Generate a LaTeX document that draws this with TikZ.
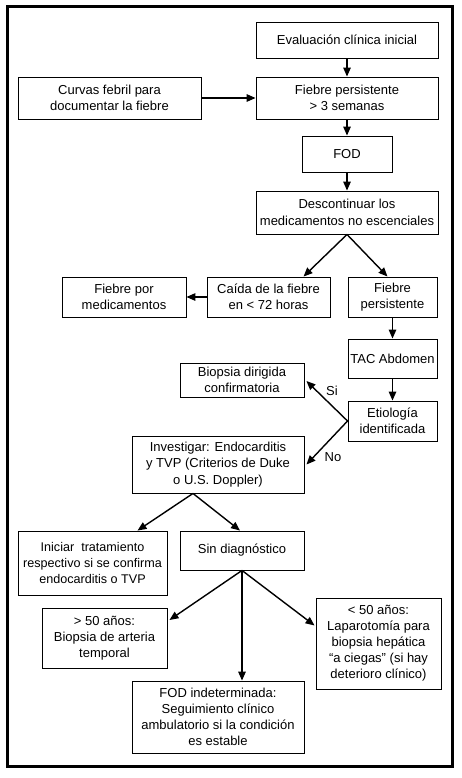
\documentclass[tikz,border=0pt]{standalone}
\usepackage{fontspec}
\setmainfont{Liberation Sans}
\usetikzlibrary{arrows.meta}
\tikzset{
  box/.style={draw, line width=0.9pt, rectangle, inner sep=0pt, align=center,
    font=\fontsize{13}{16.5}\selectfont},
  arr/.style={line width=1.4pt, -{Triangle[length=9pt,width=7.5pt]}},
  lbl/.style={font=\fontsize{13}{16}\selectfont, inner sep=0pt}
}
\begin{document}
\begin{tikzpicture}[x=1pt,y=-1pt]
\useasboundingbox (0,0) rectangle (462,778);
\draw[line width=3pt] (7,7) rectangle (452,766);

\node[box, minimum width=182pt, minimum height=36pt] (eval) at (347,40) {Evaluación clínica inicial};
\node[box, minimum width=183pt, minimum height=42pt] (curvas) at (109.5,98) {Curvas febril para\\documentar la fiebre};
\node[box, minimum width=182pt, minimum height=42pt] (fp3) at (347,98) {Fiebre persistente\\> 3 semanas};
\node[box, minimum width=90pt, minimum height=36pt] (fod) at (347,154) {FOD};
\node[box, minimum width=182pt, minimum height=43pt] (desc) at (347,212.5) {Descontinuar los\\medicamentos no escenciales};
\node[box, minimum width=124pt, minimum height=40pt] (fmed) at (124,297) {Fiebre por\\medicamentos};
\node[box, minimum width=123pt, minimum height=40pt] (caida) at (268.5,297) {Caída de la fiebre\\en < 72 horas};
\node[box, minimum width=89pt, minimum height=40pt] (fpers) at (392.5,297) {Fiebre\\persistente};
\node[box, minimum width=89pt, minimum height=39pt] (tac) at (392.5,358.5) {TAC Abdomen};
\node[box, minimum width=124pt, minimum height=34pt] (biop) at (242,380) {Biopsia dirigida\\confirmatoria};
\node[box, minimum width=89pt, minimum height=40pt] (etio) at (392.5,421) {Etiología\\identificada};
\node[box, minimum width=172pt, minimum height=57pt] (inv) at (218,464.5) {Investigar: Endocarditis\\y TVP (Criterios de Duke\\o U.S. Doppler)};
\node[box, minimum width=149pt, minimum height=64pt, font=\fontsize{12.6}{16}\selectfont] (inic) at (92.5,563) {Iniciar \ tratamiento\\respectivo si se confirma\\endocarditis o TVP};
\node[box, minimum width=124pt, minimum height=39pt] (sind) at (242,550.5) {Sin diagnóstico};
\node[box, minimum width=125pt, minimum height=60pt, font=\fontsize{13}{16}\selectfont] (may) at (104.5,638) {> 50 años:\\Biopsia de arteria\\temporal};
\node[box, minimum width=125pt, minimum height=91pt, font=\fontsize{13}{16}\selectfont] (men) at (378.5,643.5) {< 50 años:\\Laparotomía para\\biopsia hepática\\“a ciegas” (si hay\\deterioro clínico)};
\node[box, minimum width=172pt, minimum height=72pt, font=\fontsize{13}{16}\selectfont] (fodi) at (218,717) {FOD indeterminada:\\Seguimiento clínico\\ambulatorio si la condición\\es estable};

\node[lbl] (si) at (332,391) {Si};
\node[lbl] (no) at (333,457) {No};

\draw[arr] (eval.south) -- (fp3.north);
\draw[arr] (curvas.east) -- (fp3.west);
\draw[arr] (fp3.south) -- (fod.north);
\draw[arr] (fod.south) -- (desc.north);
\draw[arr] (desc.south) -- ([xshift=35pt]caida.north);
\draw[arr] (desc.south) -- ([xshift=-5pt]fpers.north);
\draw[arr] (caida.west) -- (fmed.east);
\draw[arr] (fpers.south) -- (tac.north);
\draw[arr] (tac.south) -- (etio.north);
\draw[arr] (etio.west) -- ([shift={(2pt,-1pt)}]biop.east);
\draw[arr] (etio.west) -- ([shift={(2pt,0pt)}]inv.east);
\coordinate (invb) at ([xshift=-25pt]inv.south);
\draw[arr] (invb) -- ([xshift=45pt]inic.north);
\draw[arr] (invb) -- ([xshift=-2pt]sind.north);
\draw[arr] (sind.south) -- ([shift={(2pt,18pt)}]may.east);
\draw[arr] (sind.south) -- (sind.south |- fodi.north);
\draw[arr] (sind.south) -- ([shift={(-1pt,18pt)}]men.west);
\end{tikzpicture}
\end{document}
